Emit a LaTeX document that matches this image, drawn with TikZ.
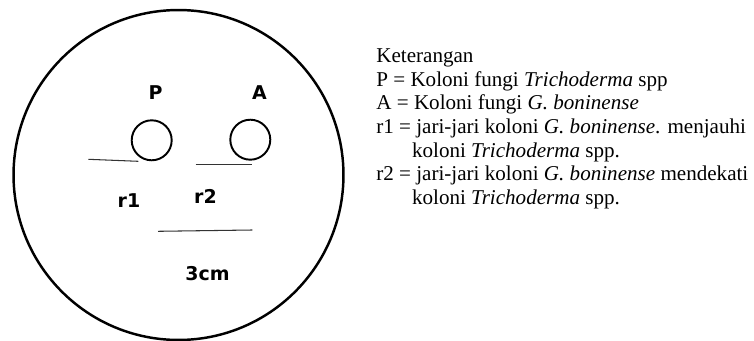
\documentclass[tikz,border=0pt]{standalone}
\usepackage{fontspec}
\setmainfont{Liberation Serif}
\newfontfamily\labelfont{DejaVu Sans}
\usetikzlibrary{positioning}
\begin{document}
\begin{tikzpicture}[x=0.02cm, y=-0.02cm,
  dish/.style={circle,draw,line width=1.4pt,minimum size=6.6cm,inner sep=0pt},
  colony/.style={circle,draw,line width=1.1pt,minimum size=0.8cm,inner sep=0pt},
  lbl/.style={anchor=base,inner sep=0pt,font=\labelfont\bfseries\fontsize{10.8}{13}\selectfont},
  legend/.style={anchor=base west,inner sep=0pt,font=\fontsize{12}{14}\selectfont},
  rline/.style={draw=black!80,line width=0.6pt}]
  \useasboundingbox (0,0) rectangle (754,341);
  \node[dish] (dish) at (178.5,175) {};
  \node[colony] (colP) at (151.7,140.3) {};
  \node[colony] (colA) at (250.3,139.7) {};
  \node[lbl] (labP) at (155.5,100) {P};
  \node[lbl] (labA) at (259.5,100) {A};
  \node[lbl] (labr1) at (129,207) {r1};
  \node[lbl] (labr2) at (205.5,203) {r2};
  \node[lbl] (lab3cm) at (207.5,280) {3cm};
  \coordinate (r1a) at (88.3,159.3);
  \coordinate (r1b) at (138.3,161.3);
  \coordinate (r2a) at (195.7,164.7);
  \coordinate (r2b) at (251.7,164.7);
  \coordinate (cma) at (158,231.3);
  \coordinate (cmb) at (252.3,230);
  \draw[rline] (r1a) -- (r1b);
  \draw[rline] (r2a) -- (r2b);
  \draw[rline] (cma) -- (cmb);
  \node[legend] (ket) at (376,63) {Keterangan};
  \node[legend] (legP) at (376,86.5) {P = Koloni fungi \textit{Trichoderma} spp};
  \node[legend] (legA) at (376,110) {A = Koloni fungi \textit{G. boninense}};
  \node[legend] (legr1) at (376,133.5) {r1 = jari-jari koloni \textit{G. boninense}. menjauhi};
  \node[legend] (legr1b) at (411.7,157) {koloni \textit{Trichoderma} spp.};
  \node[legend] (legr2) at (376,180.5) {r2 = jari-jari koloni \textit{G. boninense} mendekati};
  \node[legend] (legr2b) at (411.7,204) {koloni \textit{Trichoderma} spp.};
\end{tikzpicture}
\end{document}
